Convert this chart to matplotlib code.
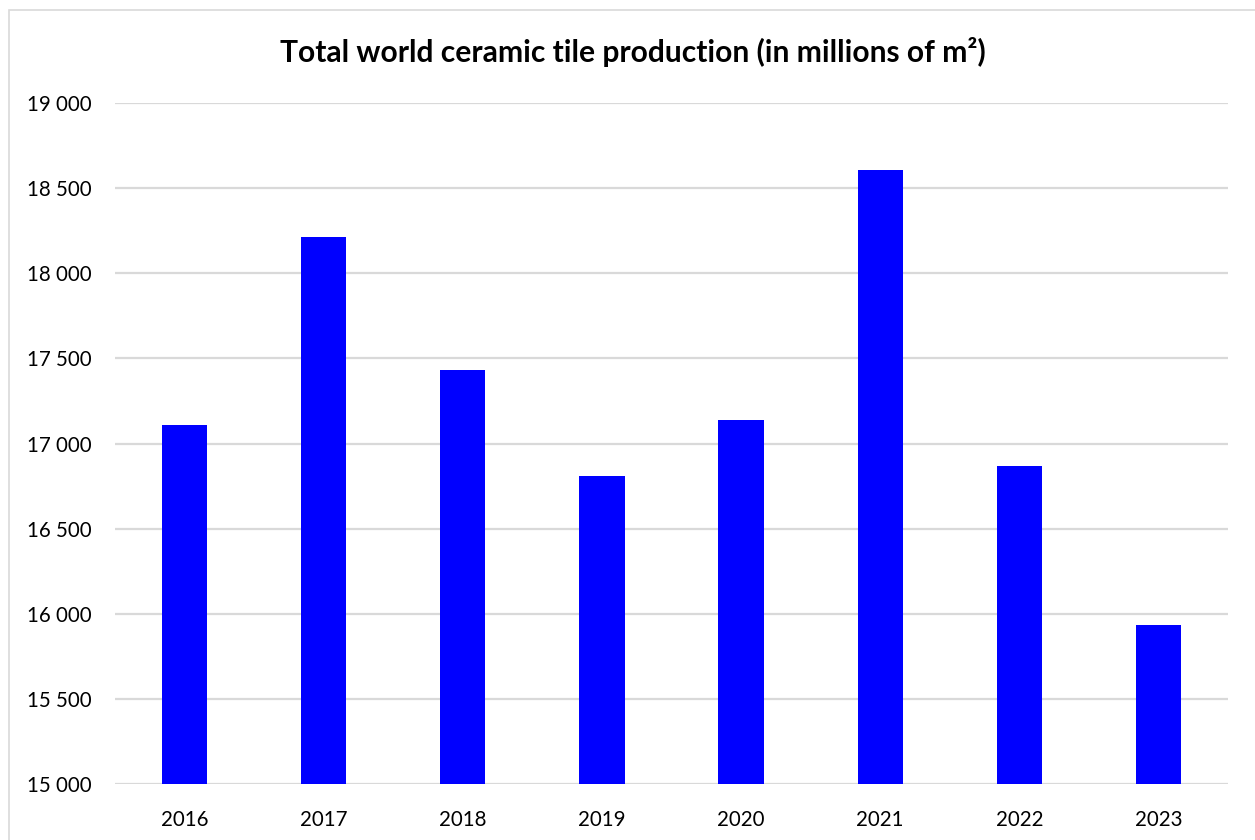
import matplotlib
matplotlib.use("Agg")
import matplotlib.pyplot as plt
from matplotlib.patches import Rectangle
from matplotlib.ticker import FuncFormatter

years = ["2016", "2017", "2018", "2019", "2020", "2021", "2022", "2023"]
production = [17110, 18213, 17432, 16810, 17138, 18606, 16868, 15935]
yticks = [15000, 15500, 16000, 16500, 17000, 17500, 18000, 18500, 19000]

plt.rcParams['font.family'] = ['Lato', 'DejaVu Sans']

fig = plt.figure(figsize=(12.55, 8.4), dpi=100)
fig.patches.append(Rectangle((9/1255, -0.1), 1.2, 1.1 - 10/840 + 0.0,
                             transform=fig.transFigure, fill=False,
                             edgecolor='#d9d9d9', linewidth=1.2))
ax = fig.add_axes([115/1255, 1 - 784/840, (1228-115)/1255, (784-103)/840])

x = range(len(years))
ax.bar(x, production, width=0.325, color='#0000ff', zorder=3)
ax.set_xlim(-0.5, len(years) - 0.5)
ax.set_ylim(15000, 19000)
ax.set_yticks(yticks)
ax.yaxis.set_major_formatter(FuncFormatter(lambda v, p: f"{int(v):,}".replace(",", " ")))
ax.set_xticks(list(x))
ax.set_xticklabels(years)
ax.grid(axis='y', color='#d9d9d9', linewidth=1.6, zorder=0)
for s in ax.spines.values():
    s.set_visible(False)
ax.tick_params(axis='both', length=0, labelsize=14.8, colors='black')
ax.tick_params(axis='y', pad=17)
ax.tick_params(axis='x', pad=19)

fig.text(633/1255, 1 - 52/840, "Total world ceramic tile production (in millions of m²)",
         ha='center', va='center', fontsize=21.6, fontweight='bold')

fig.savefig("out.png", dpi=100, facecolor='white')
